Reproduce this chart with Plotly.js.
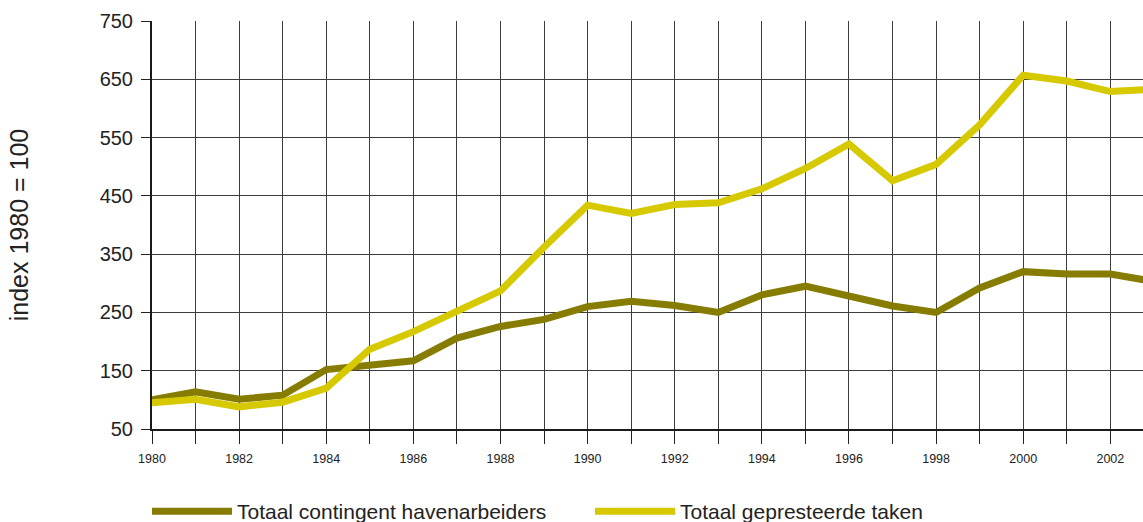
<!DOCTYPE html>
<html>
<head>
<meta charset="utf-8">
<script src="https://cdn.plot.ly/plotly-3.0.1.min.js"></script>
<style>html,body{margin:0;padding:0;background:#fff;}#chart{width:1143px;height:522px;}</style>
</head>
<body>
<div id="chart"></div>
<script>
const years = [1980,1981,1982,1983,1984,1985,1986,1987,1988,1989,1990,1991,1992,1993,1994,1995,1996,1997,1998,1999,2000,2001,2002,2003];
const contingent = [100,114,101,108,152,160,167,206,226,238,260,269,262,250,280,295,277,261,250,292,320,316,316,303];
const taken = [95,101,88,96,120,187,217,252,287,362,434,420,435,438,462,497,539,476,504,572,657,647,629,633];
const seriesNames = ['Totaal contingent havenarbeiders','Totaal gepresteerde taken'];
const yTitle = 'index 1980 = 100';

const font = 'Liberation Sans, Arial, sans-serif';
const gridCol = '#3c3c3c';

const traces = [
  {x: years, y: contingent, name: seriesNames[0], type: 'scatter', mode: 'lines',
   line: {color: '#857c00', width: 7}},
  {x: years, y: taken, name: seriesNames[1], type: 'scatter', mode: 'lines',
   line: {color: '#d6c900', width: 7}}
];

const layout = {
  width: 1143, height: 522,
  margin: {l: 152, r: 0, t: 21, b: 93},
  paper_bgcolor: '#fff', plot_bgcolor: '#fff',
  font: {family: font, color: '#222'},
  showlegend: true,
  legend: {orientation: 'h', xref: 'container', x: 0.1286, xanchor: 'left',
           yref: 'container', y: 0.02, yanchor: 'middle',
           font: {size: 21, color: '#222', family: font}, itemwidth: 80,
           entrywidth: 348, entrywidthmode: 'pixels', itemclick: false},
  xaxis: {range: [1980, 2002.75], tick0: 1980, dtick: 2, showgrid: true, gridcolor: gridCol, gridwidth: 1,
          ticks: 'outside', ticklen: 13, tickcolor: '#222', tickwidth: 1,
          showline: true, linecolor: '#1a1a1a', linewidth: 2, zeroline: false,
          tickfont: {size: 12.5, color: '#222', family: font}, ticklabelstandoff: 4,
          minor: {dtick: 1, showgrid: true, gridcolor: gridCol, gridwidth: 1, ticks: 'outside', ticklen: 13, tickcolor: '#222'}},
  yaxis: {range: [50, 750], tick0: 50, dtick: 100, showgrid: true, gridcolor: gridCol, gridwidth: 1,
          ticks: 'outside', ticklen: 9, tickcolor: '#222', tickwidth: 1,
          showline: true, linecolor: '#1a1a1a', linewidth: 2, zeroline: false,
          tickfont: {size: 20, color: '#222', family: font}, ticklabelstandoff: 4,
          title: {text: yTitle, font: {size: 25, color: '#222', family: font}, standoff: 64},
          automargin: true}
};

Plotly.newPlot('chart', traces, layout, {staticPlot: true, displayModeBar: false});
</script>
</body>
</html>
